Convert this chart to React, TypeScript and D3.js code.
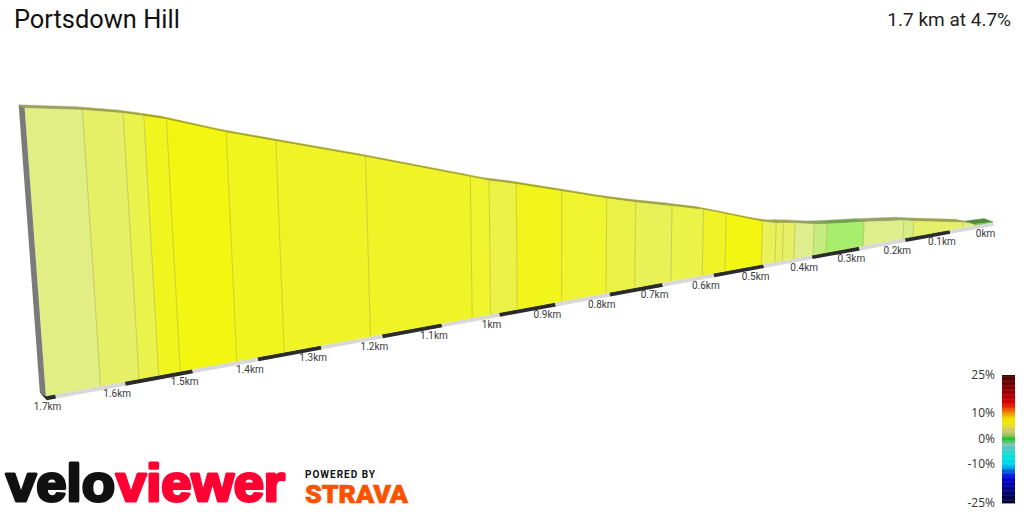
import React from "react";
import * as d3 from "d3";

const titleText = "Portsdown Hill";
const summaryText = "1.7 km at 4.7%";

// distance from the summit end of the climb (km), ascending
const distances = [0, 0.045, 0.069, 0.182, 0.204, 0.291, 0.37, 0.397, 0.437, 0.461, 0.476, 0.504, 0.577, 0.622, 0.683, 0.752, 0.806, 0.888, 0.968, 1.015, 1.047, 1.219, 1.358, 1.432, 1.518, 1.55, 1.579, 1.635, 1.713];
// profile height (m)
const elevations = [0, 0.4, 1.7, 5.4, 6.2, 8.2, 9.7, 10.4, 11.9, 12.6, 13.0, 14.3, 18.8, 21.5, 24.4, 27.5, 30.2, 34.7, 39.1, 41.4, 43.4, 53.9, 62.0, 66.4, 72.2, 73.9, 75.4, 77.6, 79.9];
// gradient class of each stretch between two distances (%)
const gradients = [0.2, 2.6, 3.4, 2.3, 2.5, 1, 1.9, 2.5, 3.5, 3.8, 4, 6.5, 5.6, 4.6, 4.1, 4.7, 5.3, 6, 4.7, 5.4, 5.6, 5.6, 5.9, 6.5, 5.9, 4.5, 3.5, 2.7];

const tickDistances = [1.7, 1.6, 1.5, 1.4, 1.3, 1.2, 1.1, 1, 0.9, 0.8, 0.7, 0.6, 0.5, 0.4, 0.3, 0.2, 0.1, 0];

const legendTicks = [25, 10, 0, -10, -25];
const legendValues = d3.range(-25, 25.01, 0.5);
const legendDomain = [-25, -20, -15, -12, -10, -7, -4, -2, -1, 0, 1, 2, 4, 6, 8, 10, 12, 14, 18, 25];
const legendRange = ["#00002c", "#00007c", "#0000d8", "#0070e0", "#00d0e8", "#00e4e0", "#40ccc8", "#80c4b4", "#60c080", "#10c818", "#50c830", "#b4c070", "#d4cc60", "#eee410", "#f0e400", "#f09800", "#e84800", "#e00000", "#a00000", "#440000"];

const faceDomain = [0, 1, 2, 2.5, 3.5, 4.5, 5.5, 6.5];
const faceRange = ["#5ec040", "#a8ee6c", "#c8ec80", "#dfee8c", "#e5f066", "#eaf24c", "#f0f428", "#f3f610"];

const faceColor = d3.scaleLinear<string>().domain(faceDomain).range(faceRange).clamp(true);
const legendColor = d3.scaleLinear<string>().domain(legendDomain).range(legendRange);
const legendY = d3.scaleLinear().domain([-25, 25]).range([503, 375]);

// Perspective projection built from linear scales
const numerator = d3.scaleLinear().domain([0, 1]).range([993, 434.1]);
const denominator = d3.scaleLinear().domain([0, 1]).range([1, 0.8699]);
const baseY = d3.scaleLinear().domain([46, 993]).range([396, 221.9]);
const heightPx = d3.scaleLinear().domain([0, 80]).range([0, 224]);
const NADIR_X = 561;
const NADIR_DIST = 7000;

const baseX = (d: number) => numerator(d) / denominator(d);
const project = (d: number, e: number): [number, number] => {
  const bx = baseX(d);
  const by = baseY(bx);
  const h = heightPx(e) / denominator(d);
  return [bx - (h * (NADIR_X - bx)) / NADIR_DIST, by - h];
};
const depthK = (d: number) => 0.78 / denominator(d);
const roadBack = (p: [number, number], d: number): [number, number] => [p[0] - (6 + (1 - depthK(d)) * 13), p[1] - 3.3];
const ribbonLow = (d: number): [number, number] => {
  const x = baseX(d);
  return [x + 1, baseY(x) + 2.2 + 2 * depthK(d)];
};

const path = (pts: [number, number][]) => d3.line()(pts)! + "Z";
const stripColor = (c: string) => {
  const m = d3.rgb(d3.interpolateRgb(c, "#787878")(0.12));
  return d3.rgb(m.r * 0.72, m.g * 0.72, m.b * 0.72).formatHex();
};

export default function App() {
  const dMax = distances[distances.length - 1];
  const segs = gradients.map((g, i) => ({ g, d0: distances[i], d1: distances[i + 1], e0: elevations[i], e1: elevations[i + 1] }));
  const bands = tickDistances.slice(0, -1).map((d, i) => ({ d0: tickDistances[i + 1], d1: d, dark: i % 2 === 1 }));

  const topNear = project(dMax, elevations[elevations.length - 1]);
  const botNear = project(dMax, 0);
  const botLow = ribbonLow(dMax);

  return (
    <svg width={1024} height={512} viewBox="0 0 1024 512" style={{ position: "absolute", left: 0, top: 0, background: "#fff" }} fontFamily="Roboto">
      <text x={14} y={28} fontSize={25.4} fill="#111">{titleText}</text>
      <text x={1011} y={26} fontSize={19} textAnchor="end" fill="#222">{summaryText}</text>

      {/* base ribbon */}
      {bands.map((b, i) => {
        const low1 = ribbonLow(b.d1), low0 = ribbonLow(b.d0);
        const a = project(b.d1, 0), c = project(b.d0, 0);
        return <path key={i} d={path([a, c, low0, low1])} fill={b.dark ? "#2b2b2b" : "#d8d8d8"} />;
      })}
      <path d={path([roadBack(botNear, dMax), botNear, project(1.7, 0), ribbonLow(1.7), botLow])} fill="#2b2b2b" />

      {/* road surface strip */}
      {segs.map((s, i) => {
        const a = project(s.d0, s.e0), b = project(s.d1, s.e1);
        return <path key={i} d={path([a, b, roadBack(b, s.d1), roadBack(a, s.d0)])} fill={stripColor(faceColor(s.g))} stroke={stripColor(faceColor(s.g))} strokeWidth={0.4} />;
      })}

      {/* profile faces */}
      {segs.map((s, i) => {
        const fill = faceColor(s.g);
        return <path key={i} d={path([project(s.d0, s.e0), project(s.d1, s.e1), project(s.d1, 0), project(s.d0, 0)])} fill={fill} stroke={fill} strokeWidth={0.4} />;
      })}
      {/* stretch separators */}
      {distances.slice(2, -1).map((d, i) => {
        const e = elevations[i + 2];
        return <path key={i} d={d3.line()([project(d, e), project(d, 0)])!} stroke="#9a9a40" strokeOpacity={0.42} strokeWidth={1} fill="none" />;
      })}
      {/* end wall */}
      <path d={path([topNear, botNear, roadBack(botNear, dMax), roadBack(topNear, dMax)])} fill="#7a7a7a" />

      {tickDistances.map((d) => {
        const x = baseX(d);
        return (
          <text key={d} x={x - 7.5} y={baseY(x) + 15.5} fontSize={10} textAnchor="middle" fill="#3a3a3a">
            {d === 0 ? "0km" : d + "km"}
          </text>
        );
      })}

      {/* legend */}
      {legendValues.slice(0, -1).map((v, i) => (
        <rect key={v} x={1002} width={13} y={legendY(legendValues[i + 1])} height={legendY(v) - legendY(legendValues[i + 1]) + 0.4} fill={legendColor(v + 0.25)} />
      ))}
      {legendTicks.map((t) => (
        <text key={t} x={995} y={legendY(t) + 3.5} fontSize={12} textAnchor="end" fill="#333" fontFamily="Open Sans">
          {t + "%"}
        </text>
      ))}

      {/* logos */}
      <text x={6} y={500.5} fontSize={52} fontWeight={700} fontFamily="Liberation Sans" fill="#111" stroke="#111" strokeWidth={3} strokeLinejoin="round" textLength={109} lengthAdjust="spacingAndGlyphs">velo</text>
      <text x={116} y={500.5} fontSize={52} fontWeight={700} fontFamily="Liberation Sans" fill="#ff0033" stroke="#ff0033" strokeWidth={3} strokeLinejoin="round" textLength={169} lengthAdjust="spacingAndGlyphs">viewer</text>
      <text x={305} y={478} fontSize={10} fontWeight={700} fill="#111" textLength={70} lengthAdjust="spacing">POWERED BY</text>
      <text x={305} y={503} fontSize={26.5} fontWeight={900} fill="#fc5200" stroke="#fc5200" strokeWidth={0.7} textLength={103} lengthAdjust="spacingAndGlyphs">STRAVA</text>
    </svg>
  );
}
